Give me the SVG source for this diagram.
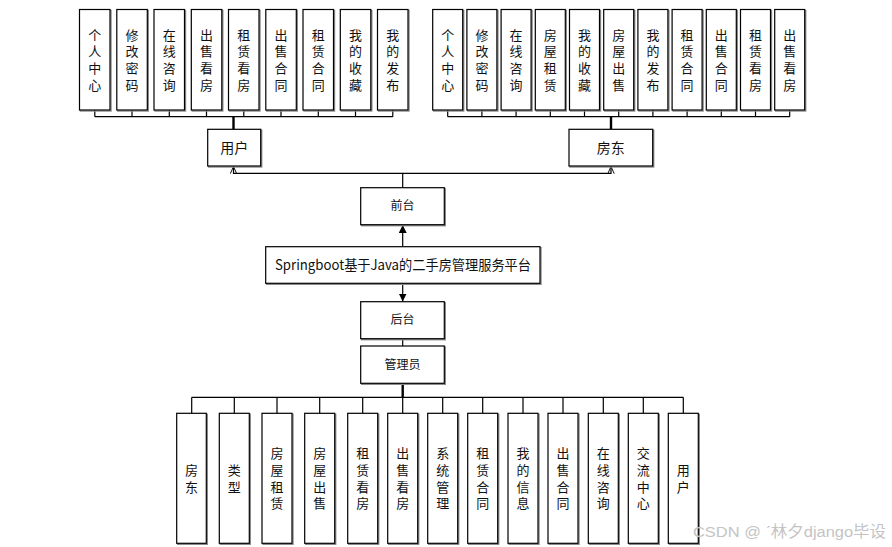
<svg xmlns="http://www.w3.org/2000/svg" width="892" height="547" viewBox="0 0 892 547">
<style>
.bx{fill:#fff;stroke:#000;stroke-width:1.2}
.sh{fill:none;stroke:#8a8a8a;stroke-width:1.4}
.t{font-family:"Noto Sans CJK SC","Microsoft YaHei",sans-serif;font-size:13px;fill:#111;text-anchor:middle;writing-mode:vertical-rl;letter-spacing:3.7px}
.tl{font-family:"Noto Sans CJK SC","Microsoft YaHei",sans-serif;font-size:14px;fill:#111;text-anchor:middle}
.ts{font-family:"Noto Sans CJK SC","Microsoft YaHei",sans-serif;font-size:12px;fill:#111;text-anchor:middle}
.ln{fill:none;stroke:#000;stroke-width:1.2}
.lt{fill:none;stroke:#000;stroke-width:2.4}
.wm{font-family:"Liberation Sans","Noto Sans CJK SC",sans-serif;font-size:15.5px;fill:#c4c4c4}
</style>
<defs>
<marker id="fa" viewBox="0 0 10 10" refX="10" refY="5" markerWidth="8" markerHeight="8" markerUnits="userSpaceOnUse" orient="auto"><path d="M0,0 L10,5 L0,10 Z" fill="#000"/></marker>
<marker id="oa" viewBox="0 0 10 10" refX="10" refY="5" markerWidth="8" markerHeight="8" markerUnits="userSpaceOnUse" orient="auto"><path d="M1,1 L10,5 L1,9" fill="none" stroke="#000" stroke-width="1.2"/></marker>
</defs>

<g id="connectors">
<path class="ln" d="M94.8,110 V116.7 M132,110 V116.7 M169.3,110 V116.7 M206.5,110 V116.7 M243.8,110 V116.7 M281,110 V116.7 M318.3,110 V116.7 M355.5,110 V116.7 M392.8,110 V116.7 M94.8,116.7 H392.8"/>
<path class="lt" d="M233.5,116.7 V129.3"/>
<path class="ln" d="M447.7,110 V116.7 M481.9,110 V116.7 M516.1,110 V116.7 M550.3,110 V116.7 M584.5,110 V116.7 M618.7,110 V116.7 M652.9,110 V116.7 M687.1,110 V116.7 M721.3,110 V116.7 M755.5,110 V116.7 M789.7,110 V116.7 M447.7,116.7 H789.7"/>
<path class="lt" d="M611,116.7 V129.3"/>
<path class="ln" d="M402.7,187.7 V173.3 H233.5 V166.5" marker-end="url(#oa)"/>
<path class="ln" d="M402.7,173.3 H611 V166.5" marker-end="url(#oa)"/>
<path class="ln" d="M402.7,246.7 V225" marker-end="url(#fa)"/>
<path class="ln" d="M402.7,283.3 V301.5" marker-end="url(#fa)"/>
<path class="ln" d="M402.7,338.7 V346"/>
<path class="lt" d="M402.7,383.3 V397.3"/>
<path class="ln" d="M191.7,397.3 H683.3 M191.7,397.3 V413.3 M234.3,397.3 V413.3 M277,397.3 V413.3 M319.7,397.3 V413.3 M362.7,397.3 V413.3 M402.7,397.3 V413.3 M442.7,397.3 V413.3 M482.7,397.3 V413.3 M523,397.3 V413.3 M563,397.3 V413.3 M603.3,397.3 V413.3 M643.3,397.3 V413.3 M683.3,397.3 V413.3"/>
</g>

<g id="u1"><rect class="sh" x="80.5" y="10.5" width="30.5" height="100.5"/><rect class="bx" x="79.5" y="9.5" width="30.5" height="100.5"/><text class="t" x="94.8" y="61.6">个人中心</text></g>
<g id="u2"><rect class="sh" x="117.8" y="10.5" width="30.5" height="100.5"/><rect class="bx" x="116.8" y="9.5" width="30.5" height="100.5"/><text class="t" x="132" y="61.6">修改密码</text></g>
<g id="u3"><rect class="sh" x="155" y="10.5" width="30.5" height="100.5"/><rect class="bx" x="154" y="9.5" width="30.5" height="100.5"/><text class="t" x="169.3" y="61.6">在线咨询</text></g>
<g id="u4"><rect class="sh" x="192.3" y="10.5" width="30.5" height="100.5"/><rect class="bx" x="191.3" y="9.5" width="30.5" height="100.5"/><text class="t" x="206.5" y="61.6">出售看房</text></g>
<g id="u5"><rect class="sh" x="229.5" y="10.5" width="30.5" height="100.5"/><rect class="bx" x="228.5" y="9.5" width="30.5" height="100.5"/><text class="t" x="243.8" y="61.6">租赁看房</text></g>
<g id="u6"><rect class="sh" x="266.8" y="10.5" width="30.5" height="100.5"/><rect class="bx" x="265.8" y="9.5" width="30.5" height="100.5"/><text class="t" x="281" y="61.6">出售合同</text></g>
<g id="u7"><rect class="sh" x="304" y="10.5" width="30.5" height="100.5"/><rect class="bx" x="303" y="9.5" width="30.5" height="100.5"/><text class="t" x="318.3" y="61.6">租赁合同</text></g>
<g id="u8"><rect class="sh" x="341.3" y="10.5" width="30.5" height="100.5"/><rect class="bx" x="340.3" y="9.5" width="30.5" height="100.5"/><text class="t" x="355.5" y="61.6">我的收藏</text></g>
<g id="u9"><rect class="sh" x="378.5" y="10.5" width="30.5" height="100.5"/><rect class="bx" x="377.5" y="9.5" width="30.5" height="100.5"/><text class="t" x="392.8" y="61.6">我的发布</text></g>

<g id="l1"><rect class="sh" x="433.7" y="10.5" width="30" height="100.5"/><rect class="bx" x="432.7" y="9.5" width="30" height="100.5"/><text class="t" x="447.7" y="61.6">个人中心</text></g>
<g id="l2"><rect class="sh" x="467.9" y="10.5" width="30" height="100.5"/><rect class="bx" x="466.9" y="9.5" width="30" height="100.5"/><text class="t" x="481.9" y="61.6">修改密码</text></g>
<g id="l3"><rect class="sh" x="502.1" y="10.5" width="30" height="100.5"/><rect class="bx" x="501.1" y="9.5" width="30" height="100.5"/><text class="t" x="516.1" y="61.6">在线咨询</text></g>
<g id="l4"><rect class="sh" x="536.3" y="10.5" width="30" height="100.5"/><rect class="bx" x="535.3" y="9.5" width="30" height="100.5"/><text class="t" x="550.3" y="61.6">房屋租赁</text></g>
<g id="l5"><rect class="sh" x="570.5" y="10.5" width="30" height="100.5"/><rect class="bx" x="569.5" y="9.5" width="30" height="100.5"/><text class="t" x="584.5" y="61.6">我的收藏</text></g>
<g id="l6"><rect class="sh" x="604.7" y="10.5" width="30" height="100.5"/><rect class="bx" x="603.7" y="9.5" width="30" height="100.5"/><text class="t" x="618.7" y="61.6">房屋出售</text></g>
<g id="l7"><rect class="sh" x="638.9" y="10.5" width="30" height="100.5"/><rect class="bx" x="637.9" y="9.5" width="30" height="100.5"/><text class="t" x="652.9" y="61.6">我的发布</text></g>
<g id="l8"><rect class="sh" x="673.1" y="10.5" width="30" height="100.5"/><rect class="bx" x="672.1" y="9.5" width="30" height="100.5"/><text class="t" x="687.1" y="61.6">租赁合同</text></g>
<g id="l9"><rect class="sh" x="707.3" y="10.5" width="30" height="100.5"/><rect class="bx" x="706.3" y="9.5" width="30" height="100.5"/><text class="t" x="721.3" y="61.6">出售合同</text></g>
<g id="l10"><rect class="sh" x="741.5" y="10.5" width="30" height="100.5"/><rect class="bx" x="740.5" y="9.5" width="30" height="100.5"/><text class="t" x="755.5" y="61.6">租赁看房</text></g>
<g id="l11"><rect class="sh" x="775.7" y="10.5" width="30" height="100.5"/><rect class="bx" x="774.7" y="9.5" width="30" height="100.5"/><text class="t" x="789.7" y="61.6">出售看房</text></g>

<g id="user"><rect class="sh" x="208.7" y="130.3" width="53" height="36.7"/><rect class="bx" x="207.7" y="129.3" width="53" height="36.7"/><text class="tl" x="234.2" y="152.6">用户</text></g>
<g id="landlord"><rect class="sh" x="570" y="130.3" width="83.7" height="36.7"/><rect class="bx" x="569" y="129.3" width="83.7" height="36.7"/><text class="tl" x="610.8" y="152.6">房东</text></g>

<g id="front"><rect class="sh" x="361.7" y="188.7" width="83.6" height="37"/><rect class="bx" x="360.7" y="187.7" width="83.6" height="37"/><text class="ts" x="402.5" y="210.4">前台</text></g>
<g id="platform"><rect class="sh" x="266.7" y="247.7" width="274.3" height="36.6"/><rect class="bx" x="265.7" y="246.7" width="274.3" height="36.6"/><text class="tl" x="403" y="270" font-size="13.5" textLength="256" lengthAdjust="spacingAndGlyphs">Springboot基于Java的二手房管理服务平台</text></g>
<g id="back"><rect class="sh" x="361.7" y="302.7" width="83.6" height="37"/><rect class="bx" x="360.7" y="301.7" width="83.6" height="37"/><text class="ts" x="402.5" y="324.4">后台</text></g>
<g id="admin"><rect class="sh" x="361.7" y="347" width="83.6" height="37.3"/><rect class="bx" x="360.7" y="346" width="83.6" height="37.3"/><text class="ts" x="402.5" y="368.9">管理员</text></g>

<g id="a1"><rect class="sh" x="177.7" y="414.3" width="29.6" height="130"/><rect class="bx" x="176.7" y="413.3" width="29.6" height="130"/><text class="t" x="191.5" y="480.2">房东</text></g>
<g id="a2"><rect class="sh" x="220.3" y="414.3" width="30" height="130"/><rect class="bx" x="219.3" y="413.3" width="30" height="130"/><text class="t" x="234.3" y="480.2">类型</text></g>
<g id="a3"><rect class="sh" x="263" y="414.3" width="30" height="130"/><rect class="bx" x="262" y="413.3" width="30" height="130"/><text class="t" x="277" y="480.2">房屋租赁</text></g>
<g id="a4"><rect class="sh" x="305.7" y="414.3" width="30" height="130"/><rect class="bx" x="304.7" y="413.3" width="30" height="130"/><text class="t" x="319.7" y="480.2">房屋出售</text></g>
<g id="a5"><rect class="sh" x="348.7" y="414.3" width="30" height="130"/><rect class="bx" x="347.7" y="413.3" width="30" height="130"/><text class="t" x="362.7" y="480.2">租赁看房</text></g>
<g id="a6"><rect class="sh" x="388.7" y="414.3" width="30" height="130"/><rect class="bx" x="387.7" y="413.3" width="30" height="130"/><text class="t" x="402.7" y="480.2">出售看房</text></g>
<g id="a7"><rect class="sh" x="428.7" y="414.3" width="30" height="130"/><rect class="bx" x="427.7" y="413.3" width="30" height="130"/><text class="t" x="442.7" y="480.2">系统管理</text></g>
<g id="a8"><rect class="sh" x="468.7" y="414.3" width="30" height="130"/><rect class="bx" x="467.7" y="413.3" width="30" height="130"/><text class="t" x="482.7" y="480.2">租赁合同</text></g>
<g id="a9"><rect class="sh" x="509" y="414.3" width="30" height="130"/><rect class="bx" x="508" y="413.3" width="30" height="130"/><text class="t" x="523" y="480.2">我的信息</text></g>
<g id="a10"><rect class="sh" x="549" y="414.3" width="30" height="130"/><rect class="bx" x="548" y="413.3" width="30" height="130"/><text class="t" x="563" y="480.2">出售合同</text></g>
<g id="a11"><rect class="sh" x="589.3" y="414.3" width="30" height="130"/><rect class="bx" x="588.3" y="413.3" width="30" height="130"/><text class="t" x="603.3" y="480.2">在线咨询</text></g>
<g id="a12"><rect class="sh" x="629.3" y="414.3" width="30" height="130"/><rect class="bx" x="628.3" y="413.3" width="30" height="130"/><text class="t" x="643.3" y="480.2">交流中心</text></g>
<g id="a13"><rect class="sh" x="669.3" y="414.3" width="30" height="130"/><rect class="bx" x="668.3" y="413.3" width="30" height="130"/><text class="t" x="683.3" y="480.2">用户</text></g>

<text class="wm" x="693" y="536.5" textLength="193" lengthAdjust="spacingAndGlyphs">CSDN @ ˊ林夕django毕设</text>
</svg>
